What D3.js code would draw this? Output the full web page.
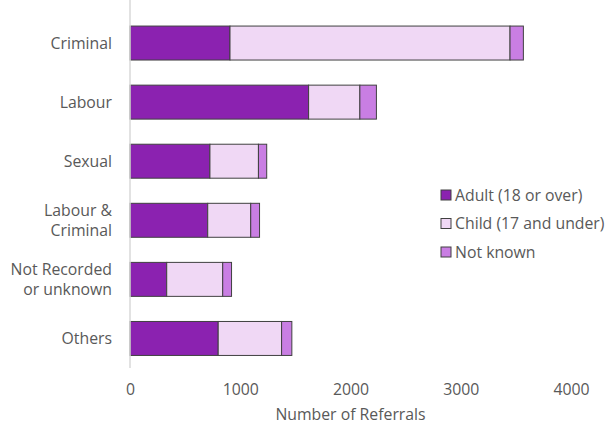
<!DOCTYPE html>
<html>

<head>
    <meta charset="UTF-8">
    <title>referrals</title>
    <style>
        body { margin: 0; background: #fff; }
        text { font-family: "Open Sans", sans-serif; fill: #595959; }
    </style>
</head>

<body>
    <script src="https://cdn.jsdelivr.net/npm/d3@7"></script>

    <svg id="chart" width="608" height="426"></svg>

    <script>
        // data
        const categories = ["Criminal", "Labour", "Sexual", "Labour & Criminal", "Not Recorded or unknown", "Others"];
        const catLines = [["Criminal"], ["Labour"], ["Sexual"], ["Labour &", "Criminal"], ["Not Recorded", "or unknown"], ["Others"]];
        const adult = [907, 1620, 725, 705, 333, 800];
        const child = [2540, 465, 440, 390, 508, 575];
        const notKnown = [121, 150, 75, 80, 80, 93];
        const seriesNames = ["Adult (18 or over)", "Child (17 and under)", "Not known"];
        const colors = ["#8b22b0", "#f0d8f5", "#c97ee3"];
        const xTicks = [0, 1000, 2000, 3000, 4000];

        const svg = d3.select("#chart");
        const fs = 15.8;

        const x = d3.scaleLinear().domain([0, 4000]).range([130, 571]);
        const y = d3.scaleBand().domain(categories).range([13.5, 368]).paddingInner(0.425).paddingOuter(0.2125);

        const table = categories.map((c, i) => ({ cat: c, adult: adult[i], child: child[i], nk: notKnown[i] }));
        const stack = d3.stack().keys(["adult", "child", "nk"])(table);

        // stacked bars
        stack.forEach((s, k) => {
            svg.append("g").selectAll("rect")
                .data(s)
                .join("rect")
                .attr("x", d => x(d[0]))
                .attr("y", d => y(d.data.cat))
                .attr("width", d => x(d[1]) - x(d[0]))
                .attr("height", y.bandwidth())
                .attr("fill", colors[k])
                .attr("stroke", "#404040")
                .attr("stroke-width", 1);
        });

        // vertical axis line
        svg.append("line")
            .attr("x1", x(0)).attr("x2", x(0))
            .attr("y1", 0).attr("y2", 368)
            .attr("stroke", "#d9d9d9").attr("stroke-width", 1.5);

        // category labels
        categories.forEach((c, i) => {
            const lines = catLines[i];
            const cy = y(c) + y.bandwidth() / 2;
            const t = svg.append("text")
                .attr("text-anchor", "end")
                .attr("font-size", fs);
            lines.forEach((l, j) => {
                t.append("tspan")
                    .attr("x", 112)
                    .attr("y", cy + 5.5 + (j - (lines.length - 1) / 2) * 20)
                    .text(l);
            });
        });

        // x axis tick labels (no line)
        const xAxis = d3.axisBottom(x).tickValues(xTicks).tickFormat(d3.format("d")).tickSize(0).tickPadding(0);
        const gx = svg.append("g").attr("transform", "translate(0,384)").call(xAxis);
        gx.select(".domain").remove();
        gx.selectAll("text").attr("font-size", fs).attr("fill", "#595959")
            .style("font-family", "'Open Sans', sans-serif");

        svg.append("text")
            .attr("x", (x(0) + x(4000)) / 2)
            .attr("y", 420)
            .attr("text-anchor", "middle")
            .attr("font-size", fs)
            .text("Number of Referrals");

        // legend
        const lg = svg.append("g").attr("transform", "translate(441,0)");
        seriesNames.forEach((n, i) => {
            const cy = 195 + i * 28.5;
            lg.append("rect")
                .attr("x", 0).attr("y", cy - 5)
                .attr("width", 10).attr("height", 10)
                .attr("fill", colors[i])
                .attr("stroke", "#404040").attr("stroke-width", 1);
            lg.append("text")
                .attr("x", 14).attr("y", cy + 5.5)
                .attr("font-size", fs)
                .text(n);
        });
    </script>

</body>

</html>
